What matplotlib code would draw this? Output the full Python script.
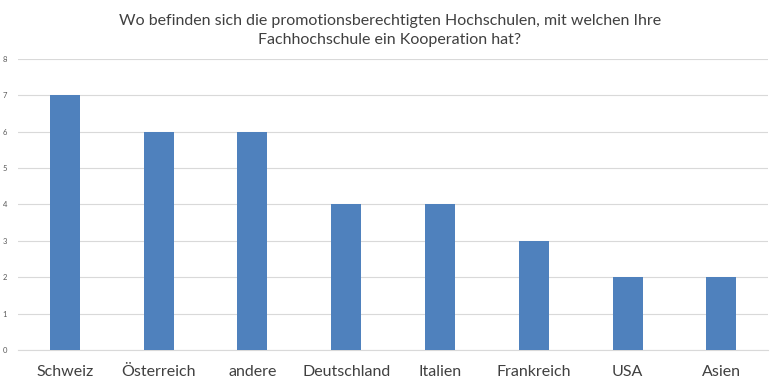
import matplotlib.pyplot as plt
import numpy as np

# data
categories = ['Schweiz', 'Österreich', 'andere', 'Deutschland', 'Italien', 'Frankreich', 'USA', 'Asien']
counts = [7, 6, 6, 4, 4, 3, 2, 2]
title = 'Wo befinden sich die promotionsberechtigten Hochschulen, mit welchen Ihre\nFachhochschule ein Kooperation hat?'

plt.rcParams['font.family'] = ['Lato', 'DejaVu Sans']

fig = plt.figure(figsize=(7.8, 3.9), dpi=100)
ax = fig.add_axes([0.023, 0.1026, 0.962, 0.7466])

x = np.arange(len(categories))
ax.bar(x, counts, width=0.32, color='#4F81BD', zorder=3)

ax.set_xlim(-0.5, len(categories) - 0.5)
ax.set_ylim(0, 8)
ax.set_yticks(range(0, 9))
ax.yaxis.grid(True, color='#D9D9D9', linewidth=0.8, zorder=0)
ax.set_xticks(x)
ax.set_xticklabels(categories, fontsize=11.5, color='#404040')
ax.tick_params(axis='y', labelsize=5.5, colors='#595959', length=0, pad=8)
ax.tick_params(axis='x', length=0, pad=11)
for side in ['top', 'right', 'left']:
    ax.spines[side].set_visible(False)
ax.spines['bottom'].set_color('#D9D9D9')

fig.text(0.5, 0.965, title, ha='center', va='top', fontsize=11.5, color='#404040', linespacing=1.5)

fig.savefig('out.png', dpi=100)
